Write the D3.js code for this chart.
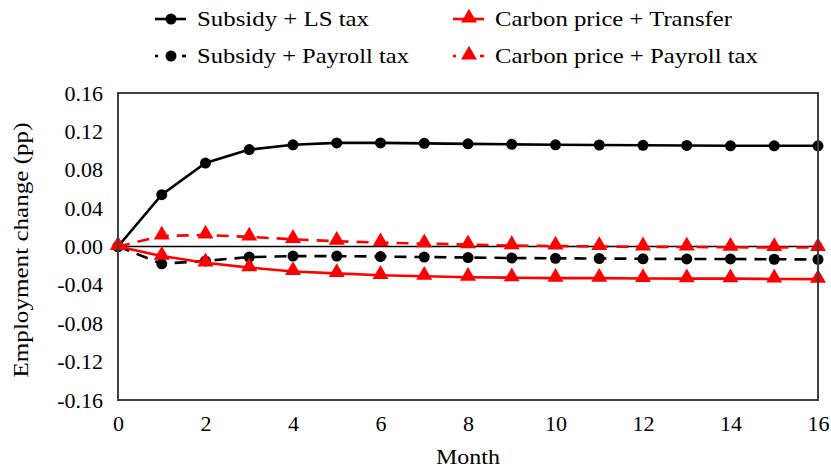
<!DOCTYPE html>
<html><head><meta charset="utf-8">
<script src="https://cdn.jsdelivr.net/npm/d3@7"></script>
<style>body{margin:0;background:#fff}svg{display:block}</style>
</head><body>
<svg id="c" width="831" height="468"></svg>
<script>
const months = [0,1,2,3,4,5,6,7,8,9,10,11,12,13,14,15,16];
const subsidyLS = [0,0.054,0.087,0.101,0.106,0.108,0.108,0.1075,0.107,0.1065,0.106,0.1058,0.1055,0.1053,0.105,0.105,0.105];
const subsidyPayroll = [0,-0.018,-0.015,-0.011,-0.010,-0.010,-0.0105,-0.011,-0.0115,-0.012,-0.0123,-0.0125,-0.0128,-0.013,-0.013,-0.0133,-0.0135];
const carbonTransfer = [0,-0.010,-0.017,-0.022,-0.026,-0.028,-0.030,-0.031,-0.032,-0.0325,-0.033,-0.033,-0.0333,-0.0335,-0.0335,-0.0338,-0.034];
const carbonPayroll = [0,0.011,0.012,0.010,0.0075,0.0055,0.004,0.003,0.002,0.001,0.0005,0,-0.0003,-0.0005,-0.0008,-0.001,-0.001];
const seriesNames = ["Subsidy + LS tax","Subsidy + Payroll tax","Carbon price + Transfer","Carbon price + Payroll tax"];
const xTicks = [0,2,4,6,8,10,12,14,16];
const yTicks = [-0.16,-0.12,-0.08,-0.04,0,0.04,0.08,0.12,0.16];

const series = [
  {name:seriesNames[0], values:subsidyLS, color:"#000", dash:null, marker:"circle", lx:155, ly:26, tw:172},
  {name:seriesNames[1], values:subsidyPayroll, color:"#000", dash:"12,8", marker:"circle", lx:155, ly:63, tw:212},
  {name:seriesNames[2], values:carbonTransfer, color:"#ff0000", dash:null, marker:"triangle", lx:453, ly:26, tw:237},
  {name:seriesNames[3], values:carbonPayroll, color:"#ff0000", dash:"12,8", marker:"triangle", lx:453, ly:63, tw:263}
];

const font = "'Liberation Serif'";
const FS = 22;
const svg = d3.select("#c");
const L=118, R=818, T=93, B=400;
const x = d3.scaleLinear().domain([0,16]).range([L,R]);
const y = d3.scaleLinear().domain([-0.16,0.16]).range([B,T]);

svg.append("line").attr("x1",L).attr("x2",R).attr("y1",y(0)).attr("y2",y(0))
  .attr("stroke","#000").attr("stroke-width",1.3);

const xAxis = d3.axisBottom(x).tickValues(xTicks).tickSize(0).tickPadding(15).tickFormat(d3.format("d"));
const gx = svg.append("g").attr("transform",`translate(0,${B})`).call(xAxis)
  .attr("font-family",font).attr("font-size",FS);
gx.select(".domain").remove();
gx.selectAll("text").attr("fill","#000");

const yAxis = d3.axisLeft(y).tickValues(yTicks).tickSize(0).tickPadding(15).tickFormat(d => d3.format(".2f")(d).replace("−","-"));
const gy = svg.append("g").attr("transform",`translate(${L},0)`).call(yAxis)
  .attr("font-family",font).attr("font-size",FS);
gy.select(".domain").remove();
gy.selectAll("text").attr("fill","#000");

const sym = {
  circle: d3.symbol().type(d3.symbolCircle).size(Math.PI*5.5*5.5),
  triangle: d3.symbol().type(d3.symbolTriangle).size(110)
};

const line = d3.line().x((d,i)=>x(months[i])).y(d=>y(d));

series.forEach(s=>{
  const g = svg.append("g");
  g.append("path").attr("d",line(s.values)).attr("fill","none")
    .attr("stroke",s.color).attr("stroke-width",2.6)
    .attr("stroke-dasharray",s.dash);
  g.selectAll("path.m").data(s.values).join("path").attr("class","m")
    .attr("d",sym[s.marker])
    .attr("transform",(d,i)=>`translate(${x(months[i])},${y(d) + (s.marker==="triangle"?-1:0)})`)
    .attr("fill",s.color);
});

svg.append("rect").attr("x",L).attr("y",T).attr("width",R-L).attr("height",B-T)
  .attr("fill","none").attr("stroke","#404040").attr("stroke-width",2);

svg.append("text").attr("x",(L+R)/2).attr("y",464).attr("text-anchor","middle")
  .attr("font-family",font).attr("font-size",FS)
  .attr("textLength",64).attr("lengthAdjust","spacingAndGlyphs").text("Month");
svg.append("text").attr("transform",`translate(28,250) rotate(-90)`).attr("text-anchor","middle")
  .attr("font-family",font).attr("font-size",FS)
  .attr("textLength",255).attr("lengthAdjust","spacingAndGlyphs").text("Employment change (pp)");

series.forEach(s=>{
  const lx = s.lx, ly = s.ly;
  const cy = ly-7;
  const g = svg.append("g");
  if (s.dash) {
    g.append("line").attr("x1",lx).attr("x2",lx+3).attr("y1",cy).attr("y2",cy)
      .attr("stroke",s.color).attr("stroke-width",2.6);
    g.append("line").attr("x1",lx+27).attr("x2",lx+31).attr("y1",cy).attr("y2",cy)
      .attr("stroke",s.color).attr("stroke-width",2.6);
  } else {
    g.append("line").attr("x1",lx).attr("x2",lx+31).attr("y1",cy).attr("y2",cy)
      .attr("stroke",s.color).attr("stroke-width",2.6);
  }
  g.append("path").attr("d",sym[s.marker])
    .attr("transform",`translate(${lx+16},${cy + (s.marker==="triangle"?-1:0)})`).attr("fill",s.color);
  g.append("text").attr("x",lx+42).attr("y",ly).attr("font-family",font).attr("font-size",FS)
    .attr("textLength",s.tw).attr("lengthAdjust","spacingAndGlyphs")
    .text(s.name);
});
</script>
</body></html>
